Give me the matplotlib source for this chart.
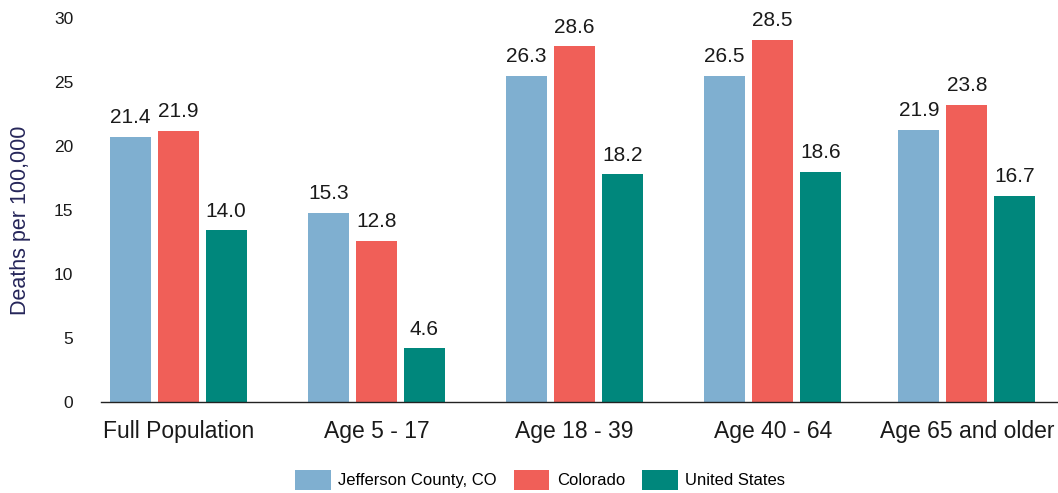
import numpy as np
from matplotlib import pyplot as plt

plt.rcParams['font.family'] = ['Liberation Sans', 'DejaVu Sans']

groups = ['Full Population', 'Age 5 - 17', 'Age 18 - 39', 'Age 40 - 64', 'Age 65 and older']
series = ['Jefferson County, CO', 'Colorado', 'United States']

# bar heights as drawn in the picture
jefferson = [20.7, 14.8, 25.5, 25.5, 21.25]
colorado = [21.2, 12.6, 27.8, 28.3, 23.2]
united_states = [13.4, 4.2, 17.8, 18.0, 16.1]

# value labels printed above the bars
jefferson_lbl = ['21.4', '15.3', '26.3', '26.5', '21.9']
colorado_lbl = ['21.9', '12.8', '28.6', '28.5', '23.8']
united_states_lbl = ['14.0', '4.6', '18.2', '18.6', '16.7']

COLORS = ['#7FAFD0', '#F05F58', '#00877C']
TEXT = '#1a1a1a'

fig = plt.figure(figsize=(10.58, 4.93), dpi=100)
ax = fig.add_axes([101 / 1058, (493 - 402) / 493, 1 - 101 / 1058, (402 - 18) / 493])

x = np.array([0, 1, 2, 3, 3.98])
width = 0.207
step = 0.242

for i, (vals, lbls) in enumerate([(jefferson, jefferson_lbl),
                                  (colorado, colorado_lbl),
                                  (united_states, united_states_lbl)]):
    pos = x + (i - 1) * step
    bars = ax.bar(pos, vals, width=width, color=COLORS[i], label=series[i])
    for b, t in zip(bars, lbls):
        ax.text(b.get_x() + b.get_width() / 2, b.get_height() + 0.75, t,
                ha='center', va='bottom', fontsize=15, color=TEXT, clip_on=False)

ax.set_xlim(-0.39, 4.44)
ax.set_ylim(0, 30)
ax.set_yticks([0, 5, 10, 15, 20, 25, 30])
ax.set_xticks(x)
ax.set_xticklabels(groups, fontsize=16.5, color=TEXT)
ax.tick_params(axis='y', length=0, pad=20, labelsize=12.5, labelcolor=TEXT)
ax.tick_params(axis='x', length=0, pad=13)

for s in ['top', 'right', 'left']:
    ax.spines[s].set_visible(False)
ax.spines['bottom'].set_color('#222222')
ax.spines['bottom'].set_linewidth(1.0)

ax.set_ylabel('Deaths per 100,000', fontsize=15.5, color='#26265a')
ax.yaxis.set_label_coords(-0.073, 0.474)

fig.legend(loc='center', bbox_to_anchor=(540 / 1058, 1 - 480 / 493), ncol=3,
           frameon=False, fontsize=12, handlelength=2.15, handleheight=1.55,
           handletextpad=0.45, columnspacing=1.0)

fig.savefig('out.png', dpi=100)
